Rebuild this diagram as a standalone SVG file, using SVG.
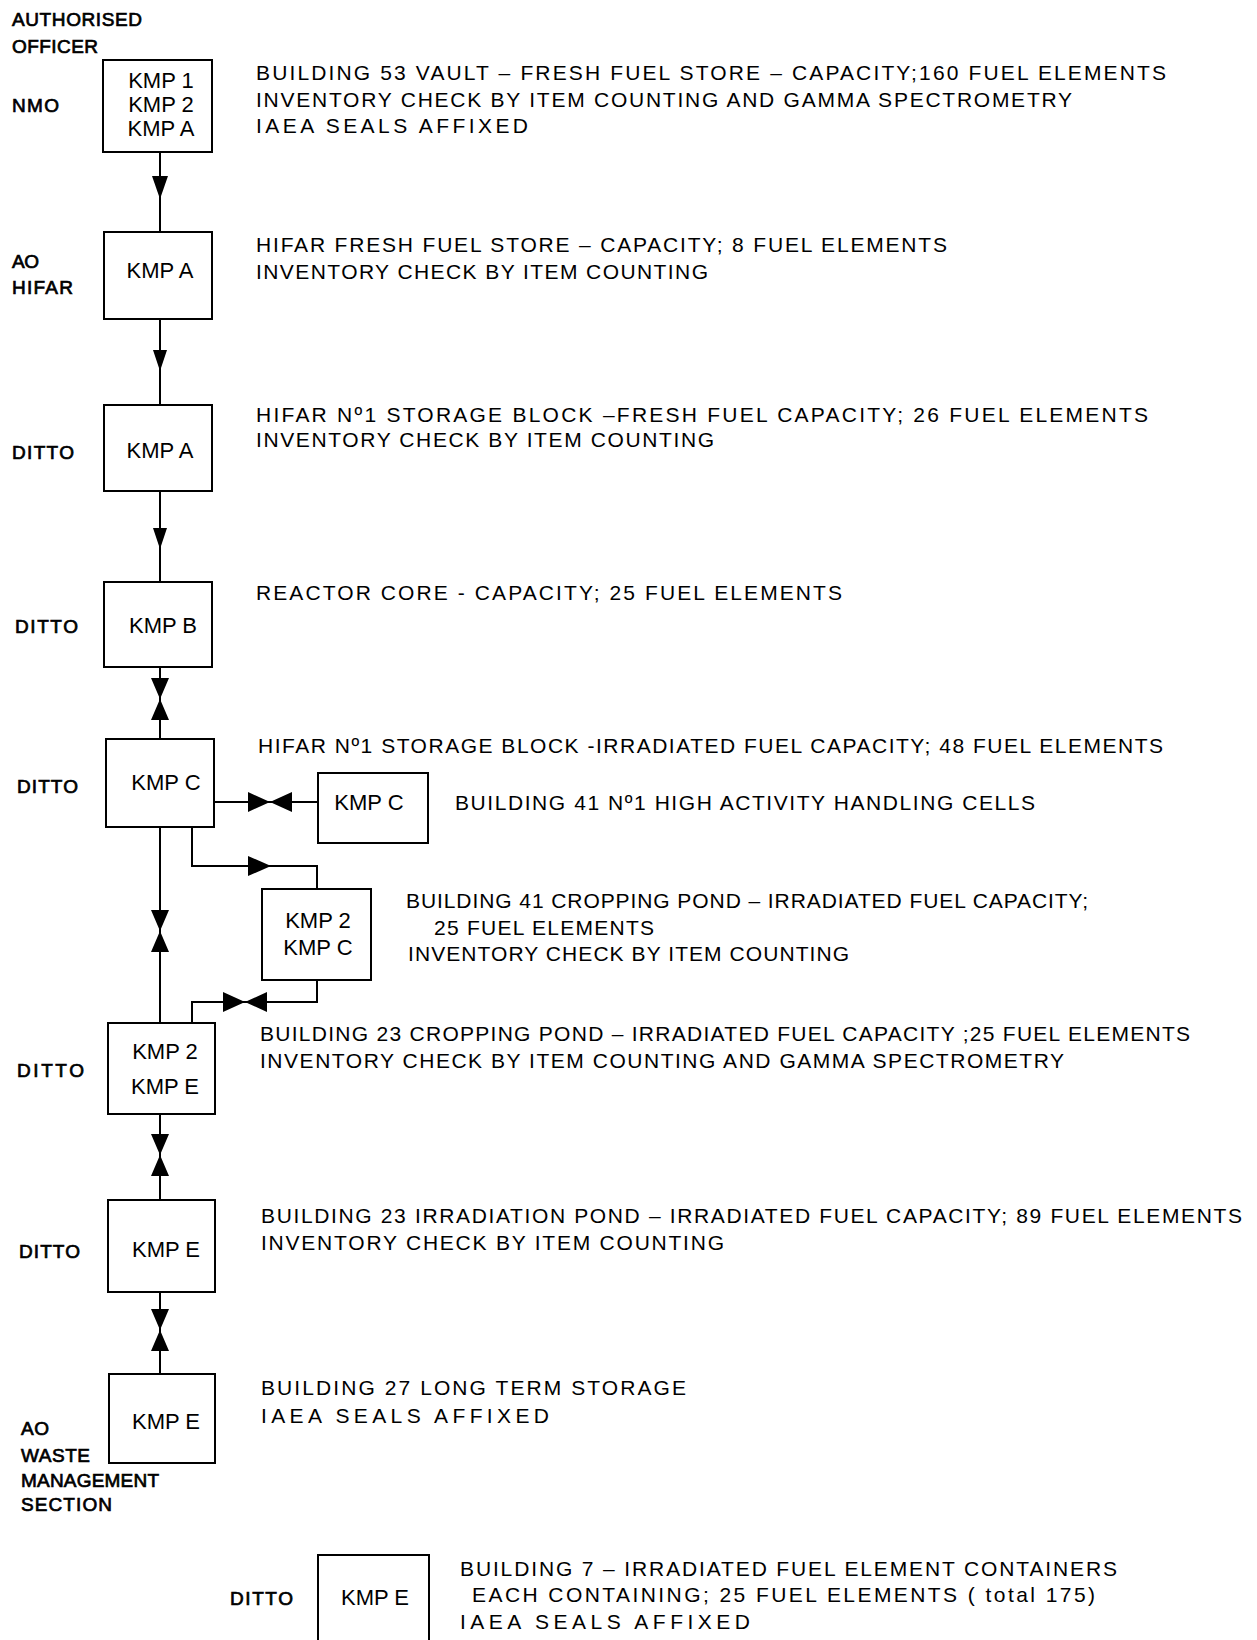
<svg xmlns="http://www.w3.org/2000/svg" xmlns:xlink="http://www.w3.org/1999/xlink" width="1257" height="1640" viewBox="0 0 1257 1640">
<style>
  text { font-family: "Liberation Sans", Arial, sans-serif; fill: #000; }
  .lbl { font-size: 19px; stroke: #000; stroke-width: 0.7; }
  .bt { font-size: 22px; text-anchor: middle; }
  .desc { font-size: 21px; }
  .box { fill: #fff; stroke: #000; stroke-width: 2; }
  .ln { fill: none; stroke: #000; stroke-width: 2; }
  .ah { fill: #000; stroke: none; }
</style>
<defs>
  <path id="tri-down" d="M-8,0 L8,0 L0,23 Z"/>
  <path id="tri-down-s" d="M-7,0 L7,0 L0,21 Z"/>
  <path id="bow-v" d="M-9,-21 L9,-21 L0,0 Z M-9,21 L9,21 L0,0 Z"/>
  <path id="bow-h" d="M-22,-10 L-22,10 L0,0 Z M22,-10 L22,10 L0,0 Z"/>
  <path id="tri-right" d="M0,-10 L0,10 L23,0 Z"/>
</defs>
<rect width="1257" height="1640" fill="#fff"/>

<g id="connectors">
  <line class="ln" x1="160" y1="152" x2="160" y2="232"/>
  <line class="ln" x1="160" y1="319" x2="160" y2="405"/>
  <line class="ln" x1="160" y1="491" x2="160" y2="582"/>
  <line class="ln" x1="160" y1="667" x2="160" y2="739"/>
  <line class="ln" x1="160" y1="827" x2="160" y2="1023"/>
  <line class="ln" x1="160" y1="1114" x2="160" y2="1200"/>
  <line class="ln" x1="160" y1="1292" x2="160" y2="1374"/>
  <line class="ln" x1="214" y1="802" x2="318" y2="802"/>
  <polyline class="ln" points="192,827 192,866 317,866 317,889"/>
  <polyline class="ln" points="317,980 317,1002 192,1002 192,1023"/>
  <use href="#tri-down" class="ah" x="160" y="176"/>
  <use href="#tri-down-s" class="ah" x="160" y="350"/>
  <use href="#tri-down-s" class="ah" x="160" y="528"/>
  <use href="#bow-v" class="ah" x="160" y="699"/>
  <use href="#bow-v" class="ah" x="160" y="931"/>
  <use href="#bow-v" class="ah" x="160" y="1155"/>
  <use href="#bow-v" class="ah" x="160" y="1330"/>
  <use href="#bow-h" class="ah" x="270" y="802"/>
  <use href="#tri-right" class="ah" x="248" y="866"/>
  <use href="#bow-h" class="ah" x="245" y="1002"/>
</g>

<g id="labels">
  <text class="lbl" x="12" y="26" textLength="130" lengthAdjust="spacing">AUTHORISED</text>
  <text class="lbl" x="12" y="53" textLength="86" lengthAdjust="spacing">OFFICER</text>
  <text class="lbl" x="12" y="112" textLength="47" lengthAdjust="spacing">NMO</text>
  <text class="lbl" x="12" y="268" textLength="27" lengthAdjust="spacing">AO</text>
  <text class="lbl" x="12" y="294" textLength="61" lengthAdjust="spacing">HIFAR</text>
  <text class="lbl" x="12" y="459" textLength="62" lengthAdjust="spacing">DITTO</text>
  <text class="lbl" x="15" y="633" textLength="63" lengthAdjust="spacing">DITTO</text>
  <text class="lbl" x="17" y="793" textLength="61" lengthAdjust="spacing">DITTO</text>
  <text class="lbl" x="17" y="1077" textLength="67" lengthAdjust="spacing">DITTO</text>
  <text class="lbl" x="19" y="1258" textLength="61" lengthAdjust="spacing">DITTO</text>
  <text class="lbl" x="21" y="1435" textLength="28" lengthAdjust="spacing">AO</text>
  <text class="lbl" x="21" y="1462" textLength="69" lengthAdjust="spacing">WASTE</text>
  <text class="lbl" x="21" y="1487" textLength="138" lengthAdjust="spacing">MANAGEMENT</text>
  <text class="lbl" x="21" y="1511" textLength="91" lengthAdjust="spacing">SECTION</text>
  <text class="lbl" x="230" y="1605" textLength="63" lengthAdjust="spacing">DITTO</text>
</g>

<g id="node-b53">
  <rect class="box" x="103" y="60" width="109" height="92"/>
  <text class="bt" x="161" y="88">KMP 1</text>
  <text class="bt" x="161" y="112">KMP 2</text>
  <text class="bt" x="161" y="136">KMP A</text>
  <text class="desc" x="256" y="80" textLength="910" lengthAdjust="spacing">BUILDING 53 VAULT – FRESH FUEL STORE – CAPACITY;160 FUEL ELEMENTS</text>
  <text class="desc" x="256" y="107" textLength="816" lengthAdjust="spacing">INVENTORY CHECK BY ITEM COUNTING AND GAMMA SPECTROMETRY</text>
  <text class="desc" x="256" y="133" textLength="272" lengthAdjust="spacing">IAEA SEALS AFFIXED</text>
</g>

<g id="node-hifar-store">
  <rect class="box" x="104" y="232" width="108" height="87"/>
  <text class="bt" x="160" y="278">KMP A</text>
  <text class="desc" x="256" y="252" textLength="691" lengthAdjust="spacing">HIFAR FRESH FUEL STORE – CAPACITY; 8 FUEL ELEMENTS</text>
  <text class="desc" x="256" y="279" textLength="452" lengthAdjust="spacing">INVENTORY CHECK BY ITEM COUNTING</text>
</g>

<g id="node-hifar-block-fresh">
  <rect class="box" x="104" y="405" width="108" height="86"/>
  <text class="bt" x="160" y="458">KMP A</text>
  <text class="desc" x="256" y="422" textLength="892" lengthAdjust="spacing">HIFAR Nº1 STORAGE BLOCK –FRESH FUEL CAPACITY; 26 FUEL ELEMENTS</text>
  <text class="desc" x="256" y="447" textLength="458" lengthAdjust="spacing">INVENTORY CHECK BY ITEM COUNTING</text>
</g>

<g id="node-core">
  <rect class="box" x="104" y="582" width="108" height="85"/>
  <text class="bt" x="163" y="633">KMP B</text>
  <text class="desc" x="256" y="600" textLength="586" lengthAdjust="spacing">REACTOR CORE - CAPACITY; 25 FUEL ELEMENTS</text>
</g>

<g id="node-hifar-block-irr">
  <rect class="box" x="106" y="739" width="108" height="88"/>
  <text class="bt" x="166" y="790">KMP C</text>
  <text class="desc" x="258" y="753" textLength="905" lengthAdjust="spacing">HIFAR Nº1 STORAGE BLOCK -IRRADIATED FUEL CAPACITY; 48 FUEL ELEMENTS</text>
</g>

<g id="node-b41-cells">
  <rect class="box" x="318" y="773" width="110" height="70"/>
  <text class="bt" x="369" y="810">KMP C</text>
  <text class="desc" x="455" y="810" textLength="580" lengthAdjust="spacing">BUILDING 41 Nº1 HIGH ACTIVITY HANDLING CELLS</text>
</g>

<g id="node-b41-pond">
  <rect class="box" x="262" y="889" width="109" height="91"/>
  <text class="bt" x="318" y="928">KMP 2</text>
  <text class="bt" x="318" y="955">KMP C</text>
  <text class="desc" x="406" y="908" textLength="682" lengthAdjust="spacing">BUILDING 41 CROPPING POND – IRRADIATED FUEL CAPACITY;</text>
  <text class="desc" x="434" y="935" textLength="220" lengthAdjust="spacing">25 FUEL ELEMENTS</text>
  <text class="desc" x="408" y="961" textLength="441" lengthAdjust="spacing">INVENTORY CHECK BY ITEM COUNTING</text>
</g>

<g id="node-b23-crop">
  <rect class="box" x="108" y="1023" width="107" height="91"/>
  <text class="bt" x="165" y="1059">KMP 2</text>
  <text class="bt" x="165" y="1094">KMP E</text>
  <text class="desc" x="260" y="1041" textLength="930" lengthAdjust="spacing">BUILDING 23 CROPPING POND – IRRADIATED FUEL CAPACITY ;25 FUEL ELEMENTS</text>
  <text class="desc" x="260" y="1068" textLength="804" lengthAdjust="spacing">INVENTORY CHECK BY ITEM COUNTING AND GAMMA SPECTROMETRY</text>
</g>

<g id="node-b23-irr">
  <rect class="box" x="108" y="1200" width="107" height="92"/>
  <text class="bt" x="166" y="1257">KMP E</text>
  <text class="desc" x="261" y="1223" textLength="981" lengthAdjust="spacing">BUILDING 23 IRRADIATION POND – IRRADIATED FUEL CAPACITY; 89 FUEL ELEMENTS</text>
  <text class="desc" x="261" y="1250" textLength="463" lengthAdjust="spacing">INVENTORY CHECK BY ITEM COUNTING</text>
</g>

<g id="node-b27">
  <rect class="box" x="109" y="1374" width="106" height="89"/>
  <text class="bt" x="166" y="1429">KMP E</text>
  <text class="desc" x="261" y="1395" textLength="425" lengthAdjust="spacing">BUILDING 27  LONG TERM STORAGE</text>
  <text class="desc" x="261" y="1423" textLength="288" lengthAdjust="spacing">IAEA SEALS AFFIXED</text>
</g>

<g id="node-b7">
  <rect class="box" x="318" y="1555" width="111" height="95"/>
  <text class="bt" x="375" y="1605">KMP E</text>
  <text class="desc" x="460" y="1576" textLength="657" lengthAdjust="spacing">BUILDING 7 – IRRADIATED FUEL ELEMENT CONTAINERS</text>
  <text class="desc" x="472" y="1602" textLength="623" lengthAdjust="spacing">EACH CONTAINING; 25 FUEL ELEMENTS ( total 175)</text>
  <text class="desc" x="460" y="1629" textLength="290" lengthAdjust="spacing">IAEA SEALS AFFIXED</text>
</g>
</svg>
